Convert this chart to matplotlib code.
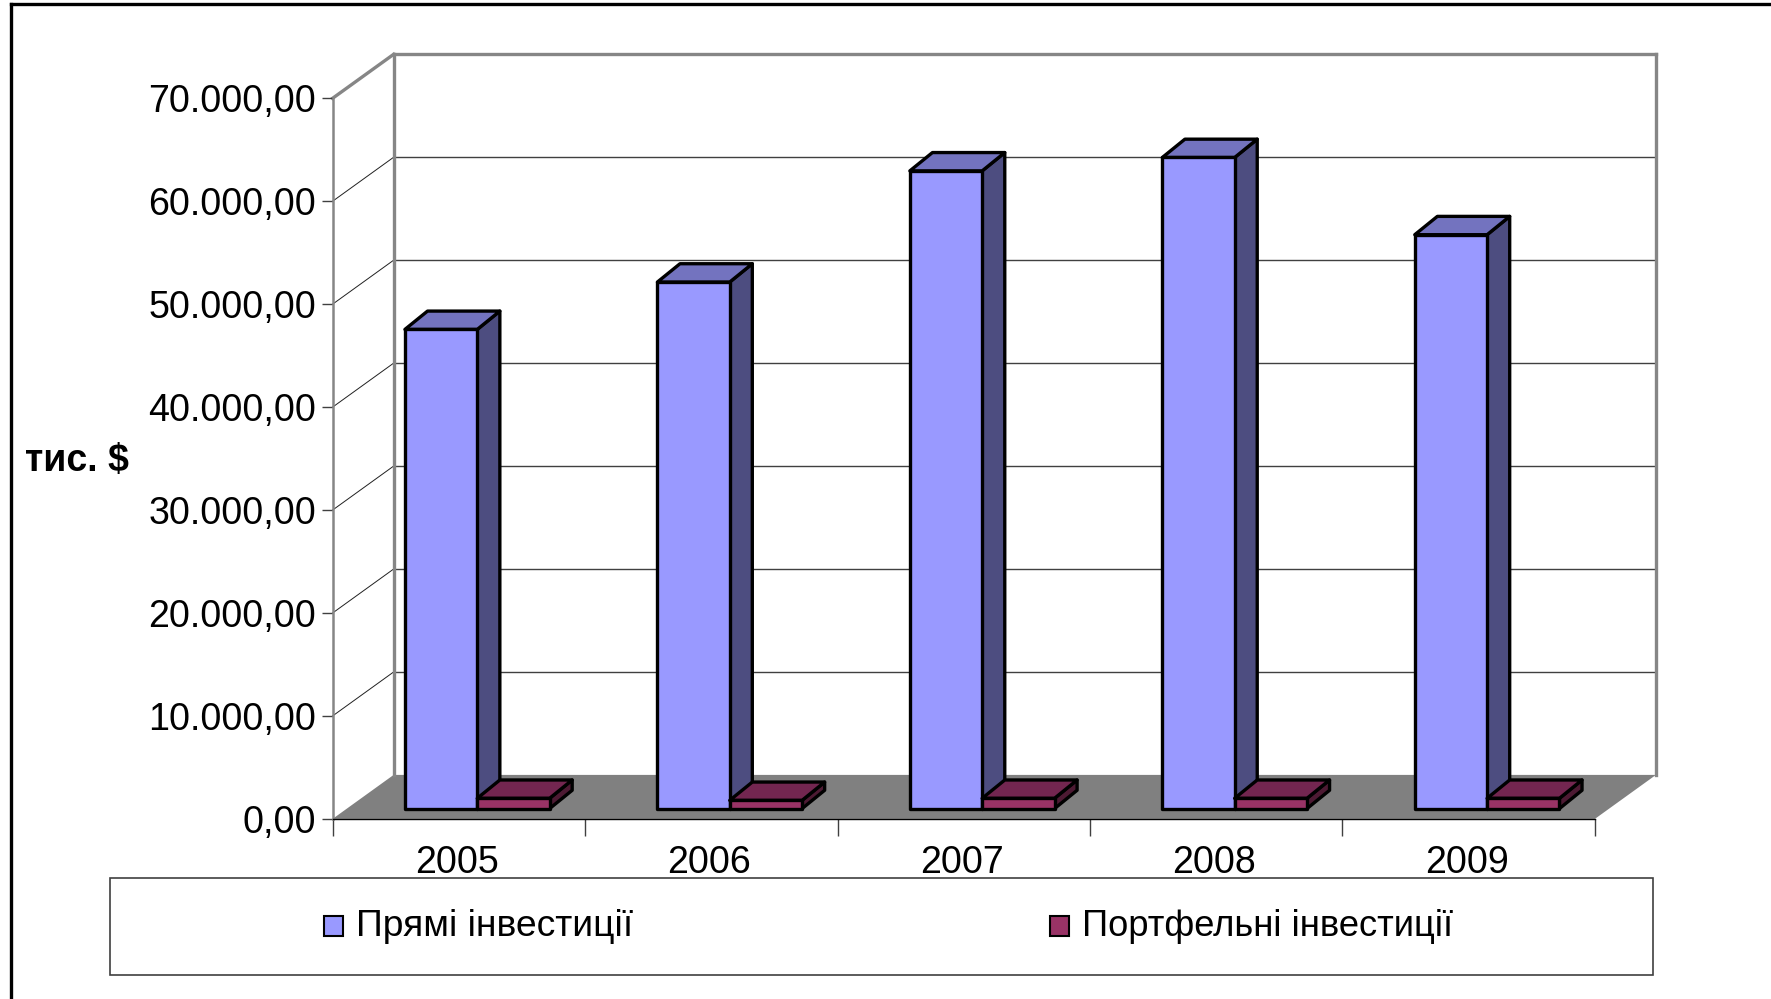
import matplotlib
matplotlib.use('Agg')
import matplotlib.pyplot as plt
from matplotlib.patches import Polygon, Rectangle
from matplotlib.lines import Line2D
from matplotlib.transforms import ScaledTranslation

years = ['2005', '2006', '2007', '2008', '2009']
direct = [46550, 51150, 61950, 63250, 55750]
portfolio = [1000, 800, 1000, 1000, 1000]
value_ticks = [0, 10000, 20000, 30000, 40000, 50000, 60000, 70000]
value_labels = ['0,00', '10.000,00', '20.000,00', '30.000,00', '40.000,00',
                '50.000,00', '60.000,00', '70.000,00']
series_names = ['Прямі інвестиції', 'Портфельні інвестиції']

W, H = 1771, 999
plt.rcParams['font.family'] = ['Liberation Sans', 'DejaVu Sans']
FS = 27.1

# oblique projection: wall depth and bar depth in axis units
WALL_DX, WALL_DY = 0.2418, 4274
BAR_DX, BAR_DY = 0.0895, 1780
BASE = 1000
BAR_W = 0.2865
GAP = 0.2865

GRAY = '#868686'

fig = plt.figure(figsize=(W / 100, H / 100), dpi=100, facecolor='white')
ax = fig.add_axes([332.6 / W, 1 - 818.9 / H, (1594.9 - 332.6) / W, (818.9 - 98.3) / H])
ax.set_xlim(0, len(years))
ax.set_ylim(0, 70000)
ax.patch.set_visible(False)


def poly(pts, fc, ec='none', lw=0, z=1):
    ax.add_patch(Polygon(pts, closed=True, facecolor=fc, edgecolor=ec, linewidth=lw,
                         joinstyle='round', clip_on=False, zorder=z))


def line(xs, ys, color, lw, z=1.5):
    ax.add_line(Line2D(xs, ys, color=color, linewidth=lw, clip_on=False, zorder=z,
                       solid_capstyle='projecting'))


def bar3d(x0, value, front, top, side, z):
    x1 = x0 + BAR_W
    y0, y1 = BASE, BASE + value
    lw = 2.4
    poly([(x1, y0), (x1 + BAR_DX, y0 + BAR_DY), (x1 + BAR_DX, y1 + BAR_DY), (x1, y1)], side, 'black', lw, z)
    poly([(x0, y1), (x1, y1), (x1 + BAR_DX, y1 + BAR_DY), (x0 + BAR_DX, y1 + BAR_DY)], top, 'black', lw, z)
    poly([(x0, y0), (x1, y0), (x1, y1), (x0, y1)], front, 'black', lw, z)


n = len(years)
top_val = value_ticks[-1]

# floor
poly([(0, 0), (n, 0), (n + WALL_DX, WALL_DY), (WALL_DX, WALL_DY)], '#808080')

# gridlines on the side wall and the back wall
for v in value_ticks[1:-1]:
    line([0, WALL_DX], [v, v + WALL_DY], '#202020', 0.7)
    line([WALL_DX, n + WALL_DX], [v + WALL_DY, v + WALL_DY], '#404040', 1.0)

# wall outlines
line([WALL_DX, WALL_DX], [WALL_DY, top_val + WALL_DY], GRAY, 2.4)
line([WALL_DX, n + WALL_DX], [top_val + WALL_DY, top_val + WALL_DY], GRAY, 2.4)
line([n + WALL_DX, n + WALL_DX], [WALL_DY, top_val + WALL_DY], GRAY, 2.4)
line([0, WALL_DX], [top_val, top_val + WALL_DY], GRAY, 2.4)

# bars
for i in range(n):
    bar3d(i + GAP, direct[i], '#9999FF', '#7373BF', '#4D4D80', 3 + i)
    bar3d(i + GAP + BAR_W, portfolio[i], '#993366', '#732650', '#4D1A33', 3.5 + i)

# axes
for s in ['top', 'right']:
    ax.spines[s].set_visible(False)
ax.spines['left'].set_color(GRAY)
ax.spines['left'].set_linewidth(1.8)
ax.spines['bottom'].set_color('black')
ax.spines['bottom'].set_linewidth(1.0)
ax.set_yticks(value_ticks, value_labels, fontsize=FS)
ax.set_xticks(range(n + 1), [''] * (n + 1))
ax.set_xticks([i + 0.5 for i in range(n)], years, minor=True, fontsize=FS)
ax.tick_params(axis='y', length=8, width=1.0, color='#404040', pad=4)
ax.tick_params(axis='x', which='major', length=12, width=1.0, color='#404040')
ax.tick_params(axis='x', which='minor', length=0, pad=19)

# nudge the year labels left of the category centres
nudge = ScaledTranslation(-1.5 / 72, 0, fig.dpi_scale_trans)
for lbl in ax.get_xticklabels(minor=True):
    lbl.set_transform(lbl.get_transform() + nudge)

# overlay in pixel coordinates for frame, unit label and legend
ov = fig.add_axes([0, 0, 1, 1])
ov.set_xlim(0, W)
ov.set_ylim(H, 0)
ov.axis('off')
ov.patch.set_visible(False)
ov.plot([11, 11], [H, 4], color='black', linewidth=2.4, solid_joinstyle='miter')
ov.plot([11, W], [4, 4], color='black', linewidth=2.4, solid_joinstyle='miter')
ov.text(77, 461, 'тис. $', fontsize=27, fontweight='bold', ha='center', va='center')

ov.add_patch(Rectangle((110, 878), 1543, 97, facecolor='white', edgecolor='#404040', linewidth=1.2))
ov.add_patch(Rectangle((324, 916), 19, 20, facecolor='#9999FF', edgecolor='black', linewidth=1.5))
ov.text(356, 927, series_names[0], fontsize=26.8, ha='left', va='center')
ov.add_patch(Rectangle((1050, 916), 19, 20, facecolor='#993366', edgecolor='black', linewidth=1.5))
ov.text(1082, 927, series_names[1], fontsize=26.2, ha='left', va='center')

fig.savefig('out.png', dpi=100)
